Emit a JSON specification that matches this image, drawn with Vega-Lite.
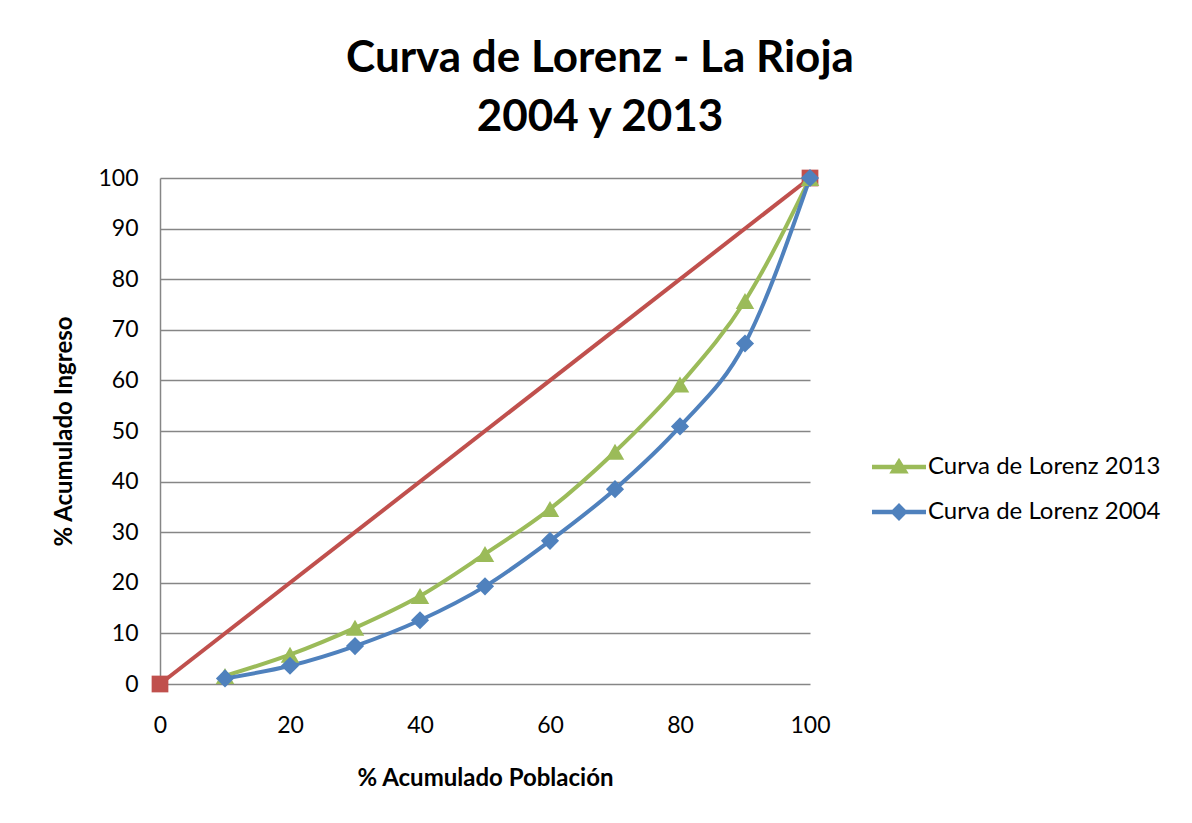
{
  "$schema": "https://vega.github.io/schema/vega-lite/v6.json",
  "autosize": "none",
  "width": 650,
  "height": 506,
  "padding": {"left": 160, "top": 178, "right": 382, "bottom": 139},
  "background": "white",
  "config": {
    "font": "Lato",
    "view": {"stroke": null},
    "axis": {"labelFont": "Lato", "titleFont": "Lato", "labelColor": "black", "titleColor": "black"}
  },
  "title": {
    "text": ["Curva de Lorenz - La Rioja", "2004 y 2013"],
    "font": "Lato",
    "fontSize": 44,
    "fontWeight": "bold",
    "lineHeight": 59,
    "anchor": "middle",
    "dx": 115,
    "offset": 27,
    "color": "black"
  },
  "data": {
    "values": [
      {"serie": "Igualdad", "poblacion": 0, "ingreso": 0},
      {"serie": "Igualdad", "poblacion": 100, "ingreso": 100},
      {"serie": "Curva de Lorenz 2013", "poblacion": 10, "ingreso": 1.6},
      {"serie": "Curva de Lorenz 2013", "poblacion": 20, "ingreso": 5.8},
      {"serie": "Curva de Lorenz 2013", "poblacion": 30, "ingreso": 11.1},
      {"serie": "Curva de Lorenz 2013", "poblacion": 40, "ingreso": 17.4},
      {"serie": "Curva de Lorenz 2013", "poblacion": 50, "ingreso": 25.7},
      {"serie": "Curva de Lorenz 2013", "poblacion": 60, "ingreso": 34.6},
      {"serie": "Curva de Lorenz 2013", "poblacion": 70, "ingreso": 45.9},
      {"serie": "Curva de Lorenz 2013", "poblacion": 80, "ingreso": 59.2},
      {"serie": "Curva de Lorenz 2013", "poblacion": 90, "ingreso": 75.7},
      {"serie": "Curva de Lorenz 2013", "poblacion": 100, "ingreso": 100},
      {"serie": "Curva de Lorenz 2004", "poblacion": 10, "ingreso": 1.1},
      {"serie": "Curva de Lorenz 2004", "poblacion": 20, "ingreso": 3.6},
      {"serie": "Curva de Lorenz 2004", "poblacion": 30, "ingreso": 7.5},
      {"serie": "Curva de Lorenz 2004", "poblacion": 40, "ingreso": 12.6},
      {"serie": "Curva de Lorenz 2004", "poblacion": 50, "ingreso": 19.3},
      {"serie": "Curva de Lorenz 2004", "poblacion": 60, "ingreso": 28.3},
      {"serie": "Curva de Lorenz 2004", "poblacion": 70, "ingreso": 38.5},
      {"serie": "Curva de Lorenz 2004", "poblacion": 80, "ingreso": 50.9},
      {"serie": "Curva de Lorenz 2004", "poblacion": 90, "ingreso": 67.3},
      {"serie": "Curva de Lorenz 2004", "poblacion": 100, "ingreso": 100}
    ]
  },
  "encoding": {
    "x": {
      "field": "poblacion", "type": "quantitative",
      "scale": {"domain": [0, 100], "nice": false},
      "axis": {
        "title": "% Acumulado Población", "titleFontSize": 24, "titleFontWeight": "bold", "titlePadding": 29,
        "values": [0, 20, 40, 60, 80, 100], "labelFontSize": 23, "labelPadding": 30, "labelFlush": false,
        "grid": false, "domain": false, "ticks": false
      }
    },
    "y": {
      "field": "ingreso", "type": "quantitative",
      "scale": {"domain": [0, 100], "nice": false},
      "axis": {
        "title": "% Acumulado Ingreso", "titleFontSize": 24, "titleFontWeight": "bold", "titlePadding": 21,
        "values": [0, 10, 20, 30, 40, 50, 60, 70, 80, 90, 100], "labelFontSize": 23, "labelPadding": 22, "labelFlush": false,
        "grid": true, "gridColor": "#868686", "gridWidth": 1.5,
        "domain": true, "domainColor": "#868686", "domainWidth": 1.5, "ticks": false
      }
    }
  },
  "layer": [
    {
      "transform": [{"filter": "datum.serie === 'Igualdad'"}],
      "mark": {"type": "line", "color": "#C0504D", "strokeWidth": 4, "clip": false},
      "encoding": {}
    },
    {
      "transform": [{"filter": "datum.serie === 'Igualdad'"}],
      "mark": {"type": "point", "shape": "square", "filled": true, "color": "#C0504D", "size": 280, "opacity": 1, "clip": false},
      "encoding": {}
    },
    {
      "transform": [{"filter": "datum.serie !== 'Igualdad'"}],
      "mark": {"type": "line", "strokeWidth": 4, "interpolate": "monotone", "clip": false},
      "encoding": {
        "color": {
          "field": "serie", "type": "nominal",
          "scale": {"domain": ["Curva de Lorenz 2013", "Curva de Lorenz 2004"], "range": ["#9BBB59", "#4F81BD"]},
          "legend": {
            "title": null,
            "orient": "none",
            "legendX": 712,
            "legendY": 262,
            "labelFont": "Lato",
            "labelFontSize": 24,
            "labelLimit": 400,
            "labelColor": "black",
            "labelOffset": 2,
            "symbolSize": 2916,
            "rowPadding": 6,
            "encode": {
              "symbols": {
                "update": {
                  "shape": {"signal": "datum.value === 'Curva de Lorenz 2013' ? 'M-1,-0.08H1V0.08H-1Z M0,-0.34L0.36,0.24H-0.36Z' : 'M-1,-0.08H1V0.08H-1Z M0,-0.33L0.33,0L0,0.33L-0.33,0Z'"},
                  "fill": {"scale": "color", "field": "value"},
                  "stroke": {"value": "transparent"},
                  "strokeWidth": {"value": 0},
                  "opacity": {"value": 1},
                  "fillOpacity": {"value": 1}
                }
              }
            }
          }
        },
        "order": {"field": "poblacion"}
      }
    },
    {
      "transform": [{"filter": "datum.serie === 'Curva de Lorenz 2013'"}],
      "mark": {"type": "point", "shape": "triangle-up", "filled": true, "opacity": 1, "size": 340, "clip": false},
      "encoding": {
        "color": {"field": "serie", "type": "nominal"}
      }
    },
    {
      "transform": [{"filter": "datum.serie === 'Curva de Lorenz 2004'"}],
      "mark": {"type": "point", "shape": "diamond", "filled": true, "opacity": 1, "size": 330, "clip": false},
      "encoding": {
        "color": {"field": "serie", "type": "nominal"}
      }
    }
  ]
}
